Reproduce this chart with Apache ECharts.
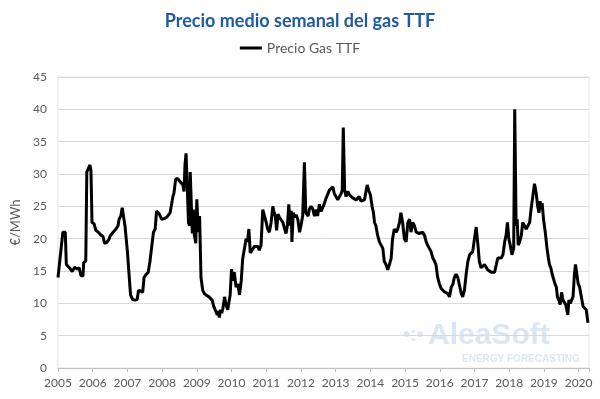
<!DOCTYPE html>
<html>
<head>
<meta charset="utf-8">
<script src="https://cdn.jsdelivr.net/npm/echarts@6/dist/echarts.min.js"></script>
<style>
  html, body { margin: 0; padding: 0; background: #fff; }
  #main { width: 600px; height: 399px; }
</style>
</head>
<body>
<div id="main"></div>
<script>
// semana (año decimal) y precio medio semanal del gas TTF (€/MWh)
var weeks = [
  2005.00, 2005.05, 2005.08, 2005.12, 2005.14, 2005.21, 2005.24, 2005.29, 2005.36, 2005.41,
  2005.48, 2005.55, 2005.61, 2005.66, 2005.72, 2005.74, 2005.80, 2005.83, 2005.87, 2005.92,
  2005.95, 2005.98, 2006.04, 2006.09, 2006.16, 2006.23, 2006.30, 2006.34, 2006.40, 2006.46,
  2006.51, 2006.59, 2006.67, 2006.73, 2006.76, 2006.81, 2006.85, 2006.89, 2006.93, 2006.98,
  2007.00, 2007.05, 2007.09, 2007.15, 2007.22, 2007.28, 2007.32, 2007.38, 2007.44, 2007.48,
  2007.53, 2007.60, 2007.65, 2007.70, 2007.75, 2007.80, 2007.84, 2007.92, 2007.99, 2008.06,
  2008.13, 2008.18, 2008.23, 2008.28, 2008.31, 2008.34, 2008.39, 2008.45, 2008.52, 2008.60,
  2008.63, 2008.66, 2008.69, 2008.73, 2008.76, 2008.79, 2008.81, 2008.84, 2008.87, 2008.90,
  2008.93, 2008.97, 2009.00, 2009.04, 2009.08, 2009.12, 2009.17, 2009.22, 2009.29, 2009.35,
  2009.39, 2009.44, 2009.49, 2009.54, 2009.59, 2009.62, 2009.65, 2009.68, 2009.72, 2009.75,
  2009.80, 2009.84, 2009.89, 2009.92, 2009.96, 2010.00, 2010.04, 2010.08, 2010.13, 2010.18,
  2010.23, 2010.28, 2010.32, 2010.37, 2010.42, 2010.46, 2010.50, 2010.54, 2010.59, 2010.66,
  2010.71, 2010.76, 2010.80, 2010.85, 2010.90, 2010.95, 2011.00, 2011.04, 2011.09, 2011.14,
  2011.19, 2011.23, 2011.26, 2011.30, 2011.34, 2011.38, 2011.43, 2011.48, 2011.52, 2011.57,
  2011.61, 2011.65, 2011.69, 2011.72, 2011.74, 2011.78, 2011.82, 2011.86, 2011.91, 2011.96,
  2012.00, 2012.05, 2012.10, 2012.14, 2012.18, 2012.21, 2012.24, 2012.29, 2012.34, 2012.39,
  2012.44, 2012.48, 2012.53, 2012.58, 2012.63, 2012.68, 2012.72, 2012.77, 2012.82, 2012.87,
  2012.92, 2012.96, 2013.01, 2013.06, 2013.11, 2013.16, 2013.19, 2013.22, 2013.26, 2013.30,
  2013.35, 2013.40, 2013.44, 2013.49, 2013.54, 2013.59, 2013.64, 2013.68, 2013.73, 2013.78,
  2013.83, 2013.88, 2013.91, 2013.95, 2014.00, 2014.05, 2014.09, 2014.12, 2014.16, 2014.21,
  2014.26, 2014.31, 2014.36, 2014.40, 2014.45, 2014.50, 2014.55, 2014.60, 2014.64, 2014.69,
  2014.74, 2014.79, 2014.84, 2014.88, 2014.93, 2014.98, 2015.03, 2015.08, 2015.13, 2015.17,
  2015.22, 2015.27, 2015.32, 2015.37, 2015.41, 2015.46, 2015.51, 2015.56, 2015.61, 2015.65,
  2015.70, 2015.75, 2015.80, 2015.85, 2015.89, 2015.94, 2015.99, 2016.04, 2016.09, 2016.13,
  2016.18, 2016.23, 2016.28, 2016.33, 2016.38, 2016.42, 2016.47, 2016.52, 2016.57, 2016.62,
  2016.66, 2016.71, 2016.76, 2016.81, 2016.86, 2016.90, 2016.95, 2017.00, 2017.05, 2017.10,
  2017.14, 2017.19, 2017.24, 2017.29, 2017.34, 2017.38, 2017.43, 2017.48, 2017.53, 2017.58,
  2017.63, 2017.67, 2017.72, 2017.77, 2017.82, 2017.87, 2017.91, 2017.95, 2017.99, 2018.03,
  2018.08, 2018.13, 2018.16, 2018.20, 2018.23, 2018.26, 2018.30, 2018.35, 2018.39, 2018.44,
  2018.49, 2018.54, 2018.59, 2018.63, 2018.68, 2018.73, 2018.78, 2018.82, 2018.86, 2018.89,
  2018.92, 2018.95, 2018.99, 2019.04, 2019.09, 2019.13, 2019.16, 2019.20, 2019.24, 2019.28,
  2019.32, 2019.36, 2019.39, 2019.43, 2019.47, 2019.51, 2019.55, 2019.59, 2019.63, 2019.66,
  2019.69, 2019.72, 2019.76, 2019.80, 2019.84, 2019.88, 2019.91, 2019.95, 2019.99, 2020.03,
  2020.08, 2020.13, 2020.17, 2020.22, 2020.27
];
var prices = [
  14.0, 14.2, 18.0, 18.3, 21.0, 21.0, 16.0, 15.8, 15.3, 14.9,
  15.6, 15.3, 15.5, 14.3, 14.2, 16.3, 16.5, 30.3, 30.5, 31.4,
  30.5, 22.5, 22.3, 21.3, 21.0, 20.6, 20.3, 19.3, 19.4, 19.8,
  20.5, 21.0, 21.5, 22.0, 23.0, 23.5, 24.8, 24.8, 22.0, 21.8,
  18.0, 17.8, 11.3, 10.6, 10.5, 10.6, 12.0, 11.9, 11.7, 14.0,
  14.4, 14.8, 16.5, 16.3, 21.0, 21.5, 24.3, 23.8, 23.0, 23.1,
  23.3, 23.0, 24.0, 24.0, 26.5, 27.0, 29.2, 29.3, 28.8, 28.3,
  27.3, 31.5, 33.2, 33.0, 22.5, 22.0, 30.3, 30.0, 20.8, 24.5,
  20.5, 19.3, 26.1, 21.0, 23.5, 14.0, 12.0, 11.5, 11.2, 11.0,
  10.7, 10.5, 9.5, 9.5, 8.2, 8.8, 7.8, 9.0, 8.5, 9.2,
  11.0, 9.8, 9.0, 9.2, 11.3, 15.3, 13.5, 14.8, 12.5, 13.0,
  11.3, 13.5, 16.8, 17.0, 20.0, 19.5, 21.5, 17.8, 18.0, 18.8,
  18.5, 18.8, 18.2, 19.0, 24.5, 24.3, 22.5, 21.5, 21.0, 22.5,
  25.0, 24.0, 23.5, 21.3, 23.8, 23.3, 23.5, 22.5, 21.7, 20.8,
  22.0, 25.3, 22.0, 24.3, 19.5, 24.0, 23.3, 23.7, 23.0, 21.0,
  22.0, 23.5, 31.8, 24.0, 23.8, 23.5, 24.5, 25.0, 24.6, 23.5,
  24.5, 23.5, 25.3, 24.2, 24.0, 25.5, 26.2, 26.5, 27.5, 27.3,
  28.0, 27.0, 26.8, 26.0, 26.3, 27.0, 27.5, 37.2, 27.5, 26.5,
  27.3, 26.8, 26.5, 26.3, 26.2, 26.0, 25.8, 26.5, 25.8, 25.5,
  26.0, 27.5, 28.3, 27.5, 26.8, 25.0, 24.0, 22.5, 22.0, 20.5,
  19.5, 19.3, 18.5, 16.5, 16.0, 15.2, 16.0, 17.0, 20.0, 21.5,
  21.0, 21.5, 22.5, 24.0, 22.5, 20.0, 19.5, 22.5, 23.0, 21.0,
  22.5, 22.0, 21.0, 20.8, 20.8, 21.0, 21.0, 20.5, 19.5, 19.0,
  18.5, 18.0, 17.0, 16.5, 16.0, 14.0, 13.0, 12.3, 12.0, 11.8,
  12.0, 11.5, 11.0, 12.5, 13.0, 14.0, 14.5, 14.0, 14.0, 11.5,
  11.0, 12.0, 14.5, 16.5, 17.5, 17.5, 18.0, 20.0, 21.8, 19.0,
  16.5, 15.5, 15.3, 16.0, 16.0, 15.2, 15.0, 14.8, 15.0, 14.8,
  16.0, 17.0, 17.3, 17.0, 17.5, 19.5, 20.5, 22.5, 20.0, 19.0,
  17.5, 18.5, 40.0, 22.0, 23.0, 19.0, 19.5, 20.5, 22.5, 22.0,
  21.5, 22.0, 22.5, 24.5, 26.5, 28.5, 27.0, 25.0, 24.0, 25.8,
  24.5, 25.5, 23.0, 21.0, 18.5, 17.0, 16.0, 15.5, 14.5, 14.3,
  13.0, 12.5, 11.0, 10.5, 9.8, 11.7, 10.5, 10.2, 9.8, 9.5,
  8.2, 10.5, 10.0, 10.3, 11.0, 14.5, 16.0, 14.5, 13.0, 12.5,
  11.0, 9.5, 9.2, 9.0, 7.0
];
var yearTicks = [2005, 2006, 2007, 2008, 2009, 2010, 2011, 2012, 2013, 2014, 2015, 2016, 2017, 2018, 2019, 2020];

var seriesData = weeks.map(function (w, i) { return [w, prices[i]]; });

var chart = echarts.init(document.getElementById('main'));
var option = {
  animation: false,
  textStyle: { fontFamily: 'Lato' },
  title: {
    text: 'Precio medio semanal del gas TTF',
    left: 'center',
    top: 7,
    textStyle: { color: '#1f5aa6', fontSize: 18, fontWeight: 'bold', fontFamily: 'Lato' }
  },
  legend: {
    top: 36,
    left: 'center',
    itemWidth: 22,
    itemHeight: 3,
    itemGap: 4,
    icon: 'rect',
    textStyle: { color: '#595959', fontSize: 14, fontFamily: 'Lato' },
    data: ['Precio Gas TTF']
  },
  grid: {
    left: 58, right: 11, top: 77, bottom: 31,
    show: true, borderColor: '#e3e3e3', borderWidth: 1
  },
  xAxis: {
    type: 'value',
    min: 2005,
    max: 2020.3,
    interval: 1,
    axisLine: { show: true, lineStyle: { color: '#bfbfbf' } },
    axisTick: { show: true, length: 4, lineStyle: { color: '#bfbfbf' } },
    splitLine: { show: false },
    axisLabel: {
      color: '#595959', fontSize: 12, margin: 9,
      formatter: function (v) { return yearTicks.indexOf(v) >= 0 ? String(v) : ''; }
    }
  },
  yAxis: {
    type: 'value',
    min: 0,
    max: 45,
    interval: 5,
    name: '€/MWh',
    nameLocation: 'middle',
    nameGap: 30,
    nameTextStyle: { color: '#595959', fontSize: 13 },
    axisLine: { show: false },
    axisTick: { show: false },
    splitLine: { lineStyle: { color: '#d9d9d9' } },
    axisLabel: { color: '#595959', fontSize: 12, margin: 11 }
  },
  graphic: [
    { type: 'text', left: 428, top: 321, style: { text: 'AleaSoft', fill: '#dce6f2', font: 'bold 30px Arial' } },
    { type: 'text', left: 462, top: 354, style: { text: 'ENERGY FORECASTING', fill: '#dce6f2', font: 'bold 10px Arial' } },
    { type: 'text', left: 403, top: 325, style: { text: '•:•', fill: '#dce6f2', font: 'bold 20px Arial' } }
  ],
  series: [{
    name: 'Precio Gas TTF',
    type: 'line',
    data: seriesData,
    showSymbol: false,
    color: '#000000',
    lineStyle: { color: '#000000', width: 3 },
    z: 3
  }]
};
chart.setOption(option);
</script>
</body>
</html>
